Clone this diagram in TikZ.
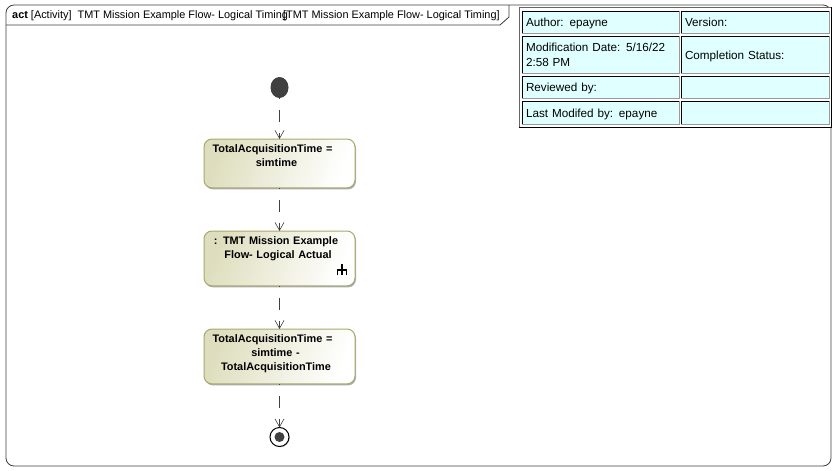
\documentclass[tikz,border=0pt]{standalone}
\usepackage{fontspec}
\setmainfont{Liberation Sans}
\usetikzlibrary{arrows.meta,shapes.geometric,shadows}
\definecolor{actline}{RGB}{168,168,110}
\definecolor{actfill}{RGB}{222,222,190}
\definecolor{cellfill}{RGB}{224,255,255}
\definecolor{dotfill}{RGB}{64,64,64}
\newcommand{\actpad}[1]{\rule[-#1pt]{0pt}{#1pt}}
\newcommand{\actshift}[1]{\leavevmode\kern-#1pt}
\newcommand{\cellstrut}{\rule[-3pt]{0pt}{15pt}}
\tikzset{
  actionbox/.style={draw=actline,line width=1pt,rounded corners=8pt,left color=actfill,right color=white,shading angle=70,
    minimum width=151pt,text width=143pt,align=center,anchor=north,inner xsep=4pt,inner ysep=6pt,outer sep=0pt,
    font=\fontsize{10.9}{14}\selectfont\bfseries,drop shadow={shadow xshift=1pt,shadow yshift=-1.5pt,fill=black!45,opacity=.7}},
  flow/.style={draw=black!75,line width=.6pt,dash pattern=on 12pt off 11pt,dash phase=11pt,-{Straight Barb[length=8pt,width=9pt,line width=.6pt]}},
  cellbox/.style={draw=black,line width=.7pt,fill=cellfill,anchor=north west,inner xsep=4pt,inner ysep=0pt,outer sep=0pt,align=left,
    font=\fontsize{11.7}{15}\selectfont}
}
\begin{document}
\begin{tikzpicture}[x=1pt,y=-1pt]
\useasboundingbox (0,0) rectangle (838,471);
\fill[white] (0,0) rectangle (838,471);
% frame and tab
\draw[black!75,line width=.8pt,rounded corners=8pt] (6,5) rectangle (831,466);
\draw[black!75,line width=.8pt] (6,25) -- (500,25) -- (509,17) -- (509,5);
\node (title) [anchor=base west,inner sep=0pt,font=\fontsize{10.9}{13}\selectfont] at (12,19) {\textbf{act} [Activity]\ \ TMT Mission Example Flow- Logical Timing};
\node (titleb) [anchor=base west,inner sep=0pt,font=\fontsize{10.9}{13}\selectfont] at (283,19) {[TMT Mission Example Flow- Logical Timing]};
% info table
\node (info) [draw=black!60,line width=.8pt,fill=white,anchor=north west,minimum width=312pt,minimum height=120pt,inner sep=0pt,outer sep=0pt] at (519,7) {};
\draw[black,line width=.9pt] (info.south west) -- (info.south east) -- (info.north east);
\foreach \n/\x/\y/\w/\h/\t in {a/522/11/157/22/{Author: epayne},b/681/11/148/22/{Version:},
  c/522/36/157/37/{Modification Date: 5/16/22\\2:58 PM},d/681/36/148/37/{Completion Status:},
  e/522/76/157/22/{Reviewed by:},f/681/76/148/22/{},
  g/522/101/157/23/{Last Modifed by: epayne},h/681/101/148/23/{}} {
  \node (cell\n) [cellbox,minimum width=\w pt,text width=\w pt-8pt,minimum height=\h pt] at (\x,\y) {\cellstrut\t\cellstrut};
  \draw[black!40,line width=.7pt] (cell\n.south west) -- (cell\n.south east) -- (cell\n.north east);
}
% flow
\node (start) [ellipse,fill=dotfill,minimum width=18pt,minimum height=21pt,inner sep=0pt,outer sep=0pt] at (279.5,87.5) {};
\node (acta) [actionbox] at (279.5,139) {\actshift{14}TotalAcquisitionTime =\\\actshift{6}simtime\actpad{15}};
\node (actb) [actionbox] at (279.5,231) {\actshift{7}: TMT Mission Example\\\actshift{3}Flow- Logical Actual\actpad{21}};
\node (actc) [actionbox] at (279.5,329) {\actshift{14}TotalAcquisitionTime =\\\actshift{8}simtime -\\\actshift{7}TotalAcquisitionTime\actpad{7}};
\node (stop) [circle,draw=black,line width=1pt,fill=white,minimum size=19pt,inner sep=0pt,outer sep=0pt,drop shadow={shadow xshift=.8pt,shadow yshift=-.8pt,fill=black!45}] at (279.5,437) {};
\node (stopdot) [circle,fill=dotfill,minimum size=10pt,inner sep=0pt] at (stop) {};
\draw[flow] (start) -- (acta);
\draw[flow] (acta) -- (actb);
\draw[flow] (actb) -- (actc);
\draw[flow] (actc) -- (stop);
% rake icon
\draw[black,line width=1.1pt] (342,264) -- (342,275) (337.5,275) -- (337.5,270) -- (346.5,270) -- (346.5,275);
\end{tikzpicture}
\end{document}
